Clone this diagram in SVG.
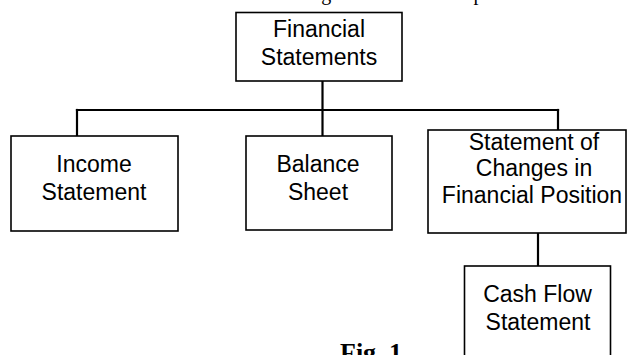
<svg xmlns="http://www.w3.org/2000/svg" width="630" height="355" viewBox="0 0 630 355">
  <style>
    .box { fill: #ffffff; stroke: #000000; stroke-width: 1.6; }
    .lbl { font-family: "Liberation Sans", Arial, sans-serif; font-size: 23px; fill: #000000; text-anchor: middle; }
    .wire { fill: none; stroke: #000000; stroke-width: 2.2; stroke-linecap: square; }
    .body { font-family: "Liberation Serif", "Times New Roman", serif; font-size: 20px; fill: #000000; }
    .cap { font-family: "Liberation Serif", "Times New Roman", serif; font-size: 26px; font-weight: bold; fill: #000000; }
  </style>
  <rect width="630" height="355" fill="#ffffff"/>

  <!-- running text line above the chart, cut at the page edge -->
  <text class="body" x="59" y="-0.5">The financial statements of an organization are comprised of:</text>

  <!-- connectors -->
  <g id="connectors">
    <path class="wire" d="M322.5 81 V136"/>
    <path class="wire" d="M77 110 H558"/>
    <path class="wire" d="M77 110 V136"/>
    <path class="wire" d="M558 110 V130"/>
    <path class="wire" d="M538 233 V266"/>
  </g>

  <g id="financial-statements">
    <rect class="box" x="236" y="12.5" width="166" height="68.5"/>
    <text class="lbl" x="319" y="36.5">Financial</text>
    <text class="lbl" x="319" y="65">Statements</text>
  </g>

  <g id="income-statement">
    <rect class="box" x="11" y="136" width="167" height="95"/>
    <text class="lbl" x="94" y="171.5">Income</text>
    <text class="lbl" x="94" y="200">Statement</text>
  </g>

  <g id="balance-sheet">
    <rect class="box" x="246" y="136" width="146" height="94"/>
    <text class="lbl" x="318" y="171.5">Balance</text>
    <text class="lbl" x="318" y="200">Sheet</text>
  </g>

  <g id="changes-in-position">
    <rect class="box" x="428" y="130" width="198" height="103"/>
    <text class="lbl" x="534" y="149.5">Statement of</text>
    <text class="lbl" x="534" y="176">Changes in</text>
    <text class="lbl" x="532" y="202.5">Financial Position</text>
  </g>

  <g id="cash-flow-statement">
    <rect class="box" x="464.5" y="266" width="146" height="100"/>
    <text class="lbl" x="537.5" y="301.5">Cash Flow</text>
    <text class="lbl" x="538" y="330">Statement</text>
  </g>

  <!-- figure caption, cut at the bottom edge -->
  <text class="cap" x="340" y="361">Fig. 1</text>
</svg>
